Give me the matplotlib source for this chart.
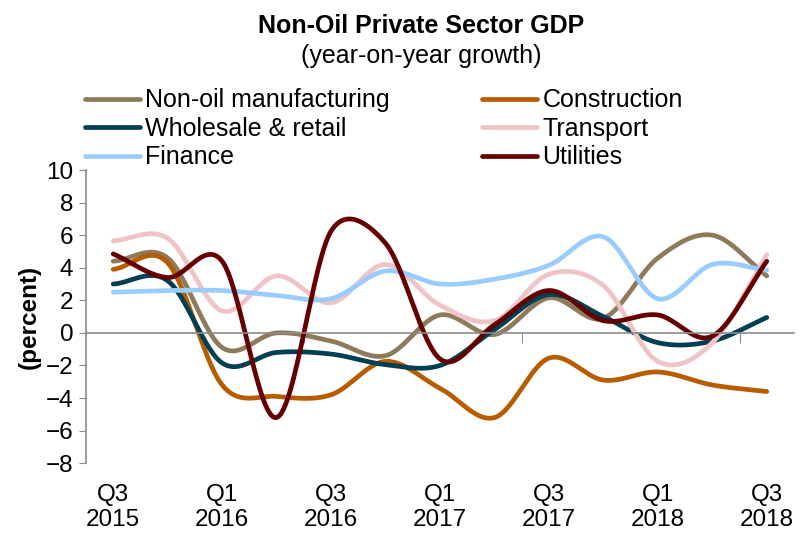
import numpy as np
import matplotlib
matplotlib.use('Agg')
import matplotlib.pyplot as plt

plt.rcParams['font.family'] = ['Liberation Sans', 'DejaVu Sans']

# data, Q3 2015 .. Q3 2018
quarters = ['Q3\n2015', '', 'Q1\n2016', '', 'Q3\n2016', '', 'Q1\n2017', '', 'Q3\n2017', '', 'Q1\n2018', '', 'Q3\n2018']
non_oil_manuf = [4.4, 4.6, -0.9, 0.0, -0.5, -1.4, 1.1, -0.1, 2.15, 0.9, 4.6, 6.0, 3.5]
construction = [3.9, 4.3, -3.2, -3.9, -3.8, -1.75, -3.4, -5.2, -1.55, -2.9, -2.4, -3.2, -3.6]
wholesale = [3.0, 3.2, -1.85, -1.2, -1.3, -1.95, -2.0, 0.2, 2.35, 1.0, -0.6, -0.5, 0.95]
transport = [5.65, 5.8, 1.35, 3.5, 1.85, 4.2, 1.7, 0.75, 3.6, 2.9, -1.75, -0.6, 4.8]
finance = [2.5, 2.6, 2.6, 2.3, 2.1, 3.8, 3.0, 3.3, 4.15, 5.9, 2.1, 4.2, 3.85]
utilities = [4.85, 3.4, 4.4, -5.2, 6.25, 5.5, -1.6, 0.5, 2.6, 0.75, 1.1, -0.2, 4.4]

series = [
    ('Non-oil manufacturing', non_oil_manuf, '#8E7B5B'),
    ('Construction', construction, '#B85C00'),
    ('Wholesale & retail', wholesale, '#003F54'),
    ('Transport', transport, '#F0C4C6'),
    ('Finance', finance, '#99CCFF'),
    ('Utilities', utilities, '#660000'),
]

PX_X, PX_Y = 54.5, 16.3  # screen pixels per category / per percent


# excel style smoothed line (bezier with limited tangents), worked out in pixel space
def smooth(y, n=30):
    y = np.asarray(y, float)
    p = np.column_stack([np.arange(len(y)) * PX_X, y * PX_Y])
    out = []
    t = np.linspace(0, 1, n)[:, None]
    for i in range(len(p) - 1):
        p1, p2 = p[i], p[i + 1]
        p0 = p[i - 1] if i > 0 else p1
        p3 = p[i + 2] if i + 2 < len(p) else p2
        d02 = np.hypot(*(p2 - p0))
        d12 = np.hypot(*(p2 - p1))
        d13 = np.hypot(*(p3 - p1))
        f0 = 1 / 3 if i == 0 else 1 / 6
        f3 = 1 / 3 if i + 2 >= len(p) else 1 / 6
        if d02 * f0 >= d12 / 2:
            f0 = d12 / 2 / d02
        if d13 * f3 >= d12 / 2:
            f3 = d12 / 2 / d13
        b1 = p1 + (p2 - p0) * f0
        b2 = p2 + (p1 - p3) * f3
        seg = (1 - t)**3 * p1 + 3 * (1 - t)**2 * t * b1 + 3 * (1 - t) * t**2 * b2 + t**3 * p2
        out.append(seg if i == 0 else seg[1:])
    out = np.vstack(out)
    return out[:, 0] / PX_X, out[:, 1] / PX_Y


fig = plt.figure(figsize=(8, 5.33), dpi=100)
ax = fig.add_axes([0.1075, 0.131, 0.885, 0.55])

grey = '#8C8C8C'
handles = {}
for name, vals, col in series:
    xs, ys = smooth(vals)
    ln, = ax.plot(xs, ys, color=col, lw=3.4, solid_capstyle='round')
    handles[name] = ln

ax.set_xlim(-0.5, 12.5)
ax.set_ylim(-8, 10)
ax.set_yticks(range(-8, 11, 2))
ax.tick_params(axis='y', direction='out', length=5, color=grey, labelsize=17.5, pad=4)

for s in ['top', 'right']:
    ax.spines[s].set_visible(False)
ax.spines['left'].set_color(grey)
ax.spines['left'].set_linewidth(1.2)
ax.spines['bottom'].set_position(('data', 0))
ax.spines['bottom'].set_color(grey)
ax.spines['bottom'].set_linewidth(1.2)
ax.set_xticks([3.5, 7.5, 11.5])
ax.set_xticklabels([])
ax.tick_params(axis='x', direction='out', length=7, color=grey)

for i, lab in enumerate(quarters):
    if lab:
        ax.text(i, -0.07, lab, transform=ax.get_xaxis_transform(), ha='center', va='top',
                fontsize=17.5, linespacing=1.2)

ax.set_ylabel('(percent)', fontsize=17.5, fontweight='bold', labelpad=4)

fig.text(0.527, 0.951, 'Non-Oil Private Sector GDP', ha='center', va='center',
         fontsize=18, fontweight='bold')
fig.text(0.527, 0.894, '(year-on-year growth)', ha='center', va='center', fontsize=18)

order = ['Non-oil manufacturing', 'Wholesale & retail', 'Finance',
         'Construction', 'Transport', 'Utilities']
fig.legend([handles[k] for k in order], order, ncol=2, loc='upper left',
           bbox_to_anchor=(0.094, 0.853), frameon=False, fontsize=18,
           handlelength=2.2, handletextpad=0.2, columnspacing=3.7,
           labelspacing=0.18, borderaxespad=0)

fig.savefig('out.png', dpi=100)
